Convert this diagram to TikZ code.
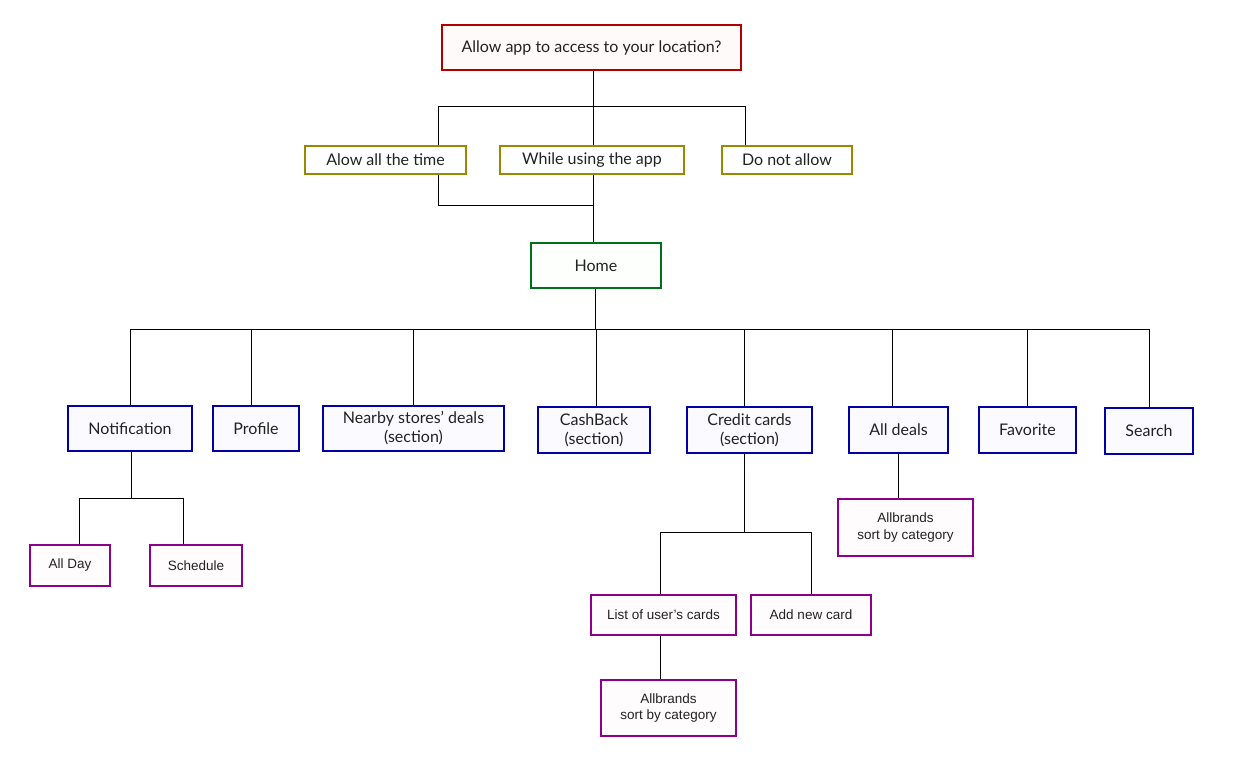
\documentclass[tikz,border=0pt]{standalone}
\usepackage{fontspec}
\setmainfont{Lato}
\newfontfamily\leaffont{Liberation Sans}
\usetikzlibrary{positioning}

\definecolor{askred}{HTML}{B20000}
\definecolor{optolive}{HTML}{9C8800}
\definecolor{homegreen}{HTML}{00701C}
\definecolor{secblue}{HTML}{0000A6}
\definecolor{leafpurple}{HTML}{8C008C}
\definecolor{txt}{HTML}{222222}

\tikzset{
  box/.style={draw, line width=2pt, minimum height=45pt, align=center,
    text=txt, font=\fontsize{16}{19}\selectfont, inner sep=2pt},
  ask/.style={box, draw=askred, fill=red!2},
  choice/.style={box, draw=optolive, fill=white, minimum height=28pt},
  home/.style={box, draw=homegreen, fill=green!1},
  section/.style={box, draw=secblue, fill=blue!2},
  leaf/.style={box, draw=leafpurple, fill=magenta!1, minimum height=40pt,
    font=\leaffont\fontsize{13.5}{16.5}\selectfont},
  wire/.style={line width=1pt, black}
}

\begin{document}
\begin{tikzpicture}[x=1pt, y=-1pt]
  \useasboundingbox (0,0) rectangle (1238,767);

  \node [ask, minimum width=299pt] (ask) at (591.5,47.5) {Allow app to access to your location?};
  \node [choice, minimum width=161pt] (always) at (385.5,160) {Alow all the time};
  \node [choice, minimum width=184pt] (using) at (592,160) {While using the app};
  \node [choice, minimum width=130pt] (deny) at (787,160) {Do not allow};
  \node [home, minimum width=130pt] (home) at (596,265.5) {Home};

  \node [section, minimum width=124pt] (notif) at (130,428.5) {Notification};
  \node [section, minimum width=86pt] (profile) at (256,428.5) {Profile};
  \node [section, minimum width=181pt] (nearby) at (413.5,428.5) {Nearby stores’ deals\\(section)};
  \node [section, minimum width=112pt, minimum height=46pt] (cashback) at (594,430) {CashBack\\(section)};
  \node [section, minimum width=125pt, minimum height=46pt] (credit) at (749.5,430) {Credit cards\\(section)};
  \node [section, minimum width=99pt, minimum height=46pt] (deals) at (898.5,430) {All deals};
  \node [section, minimum width=97pt, minimum height=46pt] (fav) at (1027.5,430) {Favorite};
  \node [section, minimum width=88pt, minimum height=46pt] (search) at (1149,431) {Search};

  \node [leaf, minimum width=80pt, minimum height=41pt] (allday) at (70,565.5) {All Day};
  \node [leaf, minimum width=92pt, minimum height=41pt] (sched) at (196,565.5) {Schedule};
  \node [leaf, minimum width=135pt, minimum height=57pt] (brandsA) at (905.5,527.5) {Allbrands\\sort by category};
  \node [leaf, minimum width=145pt] (mycards) at (663.5,615) {List of user’s cards};
  \node [leaf, minimum width=120pt] (newcard) at (811,615) {Add new card};
  \node [leaf, minimum width=135pt, minimum height=56pt] (brandsB) at (668.5,708) {Allbrands\\sort by category};

  % question -> choices
  \coordinate (q) at (593,107);
  \coordinate (qa) at (438,107);
  \coordinate (qd) at (745,107);
  \draw [wire] (ask.south -| q) -- (q);
  \draw [wire] (qa |- always.north) |- (qd) -- (qd |- deny.north);
  \draw [wire] (q) -- (q |- using.north);

  % choices -> home
  \coordinate (h) at (593,206);
  \draw [wire] (qa |- always.south) |- (h);
  \draw [wire] (h |- using.south) -- (h |- home.north);

  % home -> sections
  \coordinate (s) at (595,329);
  \draw [wire] (home.south -| s) -- (s);
  \draw [wire] (notif.north) -- (notif |- s) -- (search |- s) -- (search.north);
  \foreach \x/\n in {251/profile, 413/nearby, 596/cashback, 744/credit, 892/deals, 1027/fav}
    \draw [wire] (\x,329) -- (\x,329 |- \n.north);

  % notification -> leaves
  \coordinate (n) at (131,498);
  \coordinate (na) at (79,498);
  \coordinate (nb) at (183,498);
  \draw [wire] (notif.south -| n) -- (n);
  \draw [wire] (na |- allday.north) |- (nb) -- (nb |- sched.north);

  % credit cards -> leaves
  \coordinate (c) at (744,532);
  \coordinate (ca) at (660,532);
  \coordinate (cb) at (811,532);
  \draw [wire] (credit.south -| c) -- (c);
  \draw [wire] (ca |- mycards.north) |- (cb) -- (cb |- newcard.north);
  \draw [wire] (mycards.south -| ca) -- (ca |- brandsB.north);

  % all deals -> leaf
  \draw [wire] (898,453) -- (898,453 |- brandsA.north);
\end{tikzpicture}
\end{document}
